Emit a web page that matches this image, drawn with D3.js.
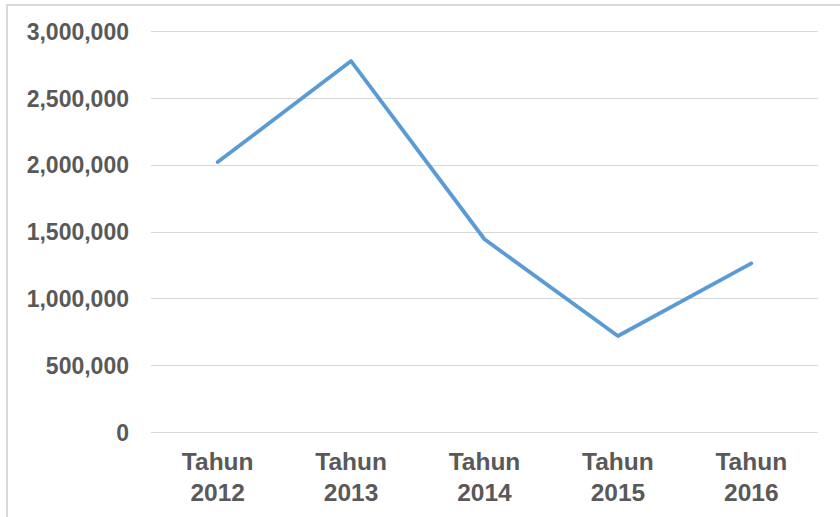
<!DOCTYPE html>
<html>
<head>
<meta charset="utf-8">
<script src="https://cdn.jsdelivr.net/npm/d3@7/dist/d3.min.js"></script>
<style>
  html, body { margin: 0; padding: 0; background: #fff; }
  svg { display: block; }
  text { font-family: "Liberation Sans", Arial, sans-serif; font-weight: bold; fill: #595959; }
</style>
</head>
<body>
<svg id="chart" width="840" height="517"></svg>
<script>
// Categories and yearly values
const years = ["2012", "2013", "2014", "2015", "2016"];
const categoryLabels = years.map(y => ["Tahun", y]);
const values = [2020000, 2775000, 1442000, 718000, 1262000];
const yTicks = [0, 500000, 1000000, 1500000, 2000000, 2500000, 3000000];

const svg = d3.select("#chart");
const W = 840, H = 517;

// Outer frame
svg.append("rect")
  .attr("x", 7).attr("y", 5)
  .attr("width", W + 10).attr("height", H + 10)
  .attr("fill", "none").attr("stroke", "#d9d9d9").attr("stroke-width", 2);

const plot = { left: 151, right: 818, top: 31, bottom: 432 };

const x = d3.scalePoint()
  .domain(years)
  .range([plot.left, plot.right])
  .padding(0.5);

const y = d3.scaleLinear()
  .domain([0, 3000000])
  .range([plot.bottom, plot.top]);

// Horizontal gridlines
svg.append("g")
  .selectAll("line")
  .data(yTicks)
  .join("line")
  .attr("x1", plot.left).attr("x2", plot.right)
  .attr("y1", d => Math.round(y(d)) + 0.5).attr("y2", d => Math.round(y(d)) + 0.5)
  .attr("stroke", "#d9d9d9").attr("stroke-width", 1);

// Y axis labels
const fmt = d3.format(",");
const yAxis = d3.axisLeft(y).tickValues(yTicks).tickFormat(fmt).tickSize(0).tickPadding(0);
const yg = svg.append("g").attr("transform", `translate(129,0)`).call(yAxis);
yg.select(".domain").remove();
yg.selectAll("text")
  .attr("font-size", 23)
  .attr("font-family", "Liberation Sans, Arial, sans-serif")
  .attr("font-weight", "bold")
  .attr("fill", "#595959")
  .attr("dy", "0.36em");

// X axis labels (two lines)
const xg = svg.append("g");
xg.selectAll("text")
  .data(years)
  .join("text")
  .attr("x", d => x(d))
  .attr("y", 470)
  .attr("text-anchor", "middle")
  .attr("font-size", 24.5)
  .each(function(d, i) {
    const t = d3.select(this);
    categoryLabels[i].forEach((s, k) => {
      t.append("tspan").attr("x", x(d)).attr("dy", k === 0 ? 0 : 31).text(s);
    });
  });

// Series line
const line = d3.line()
  .x((d, i) => x(years[i]))
  .y(d => y(d));

svg.append("path")
  .datum(values)
  .attr("d", line)
  .attr("fill", "none")
  .attr("stroke", "#5b9bd5")
  .attr("stroke-width", 3.8)
  .attr("stroke-linejoin", "round")
  .attr("stroke-linecap", "round");
</script>
</body>
</html>
